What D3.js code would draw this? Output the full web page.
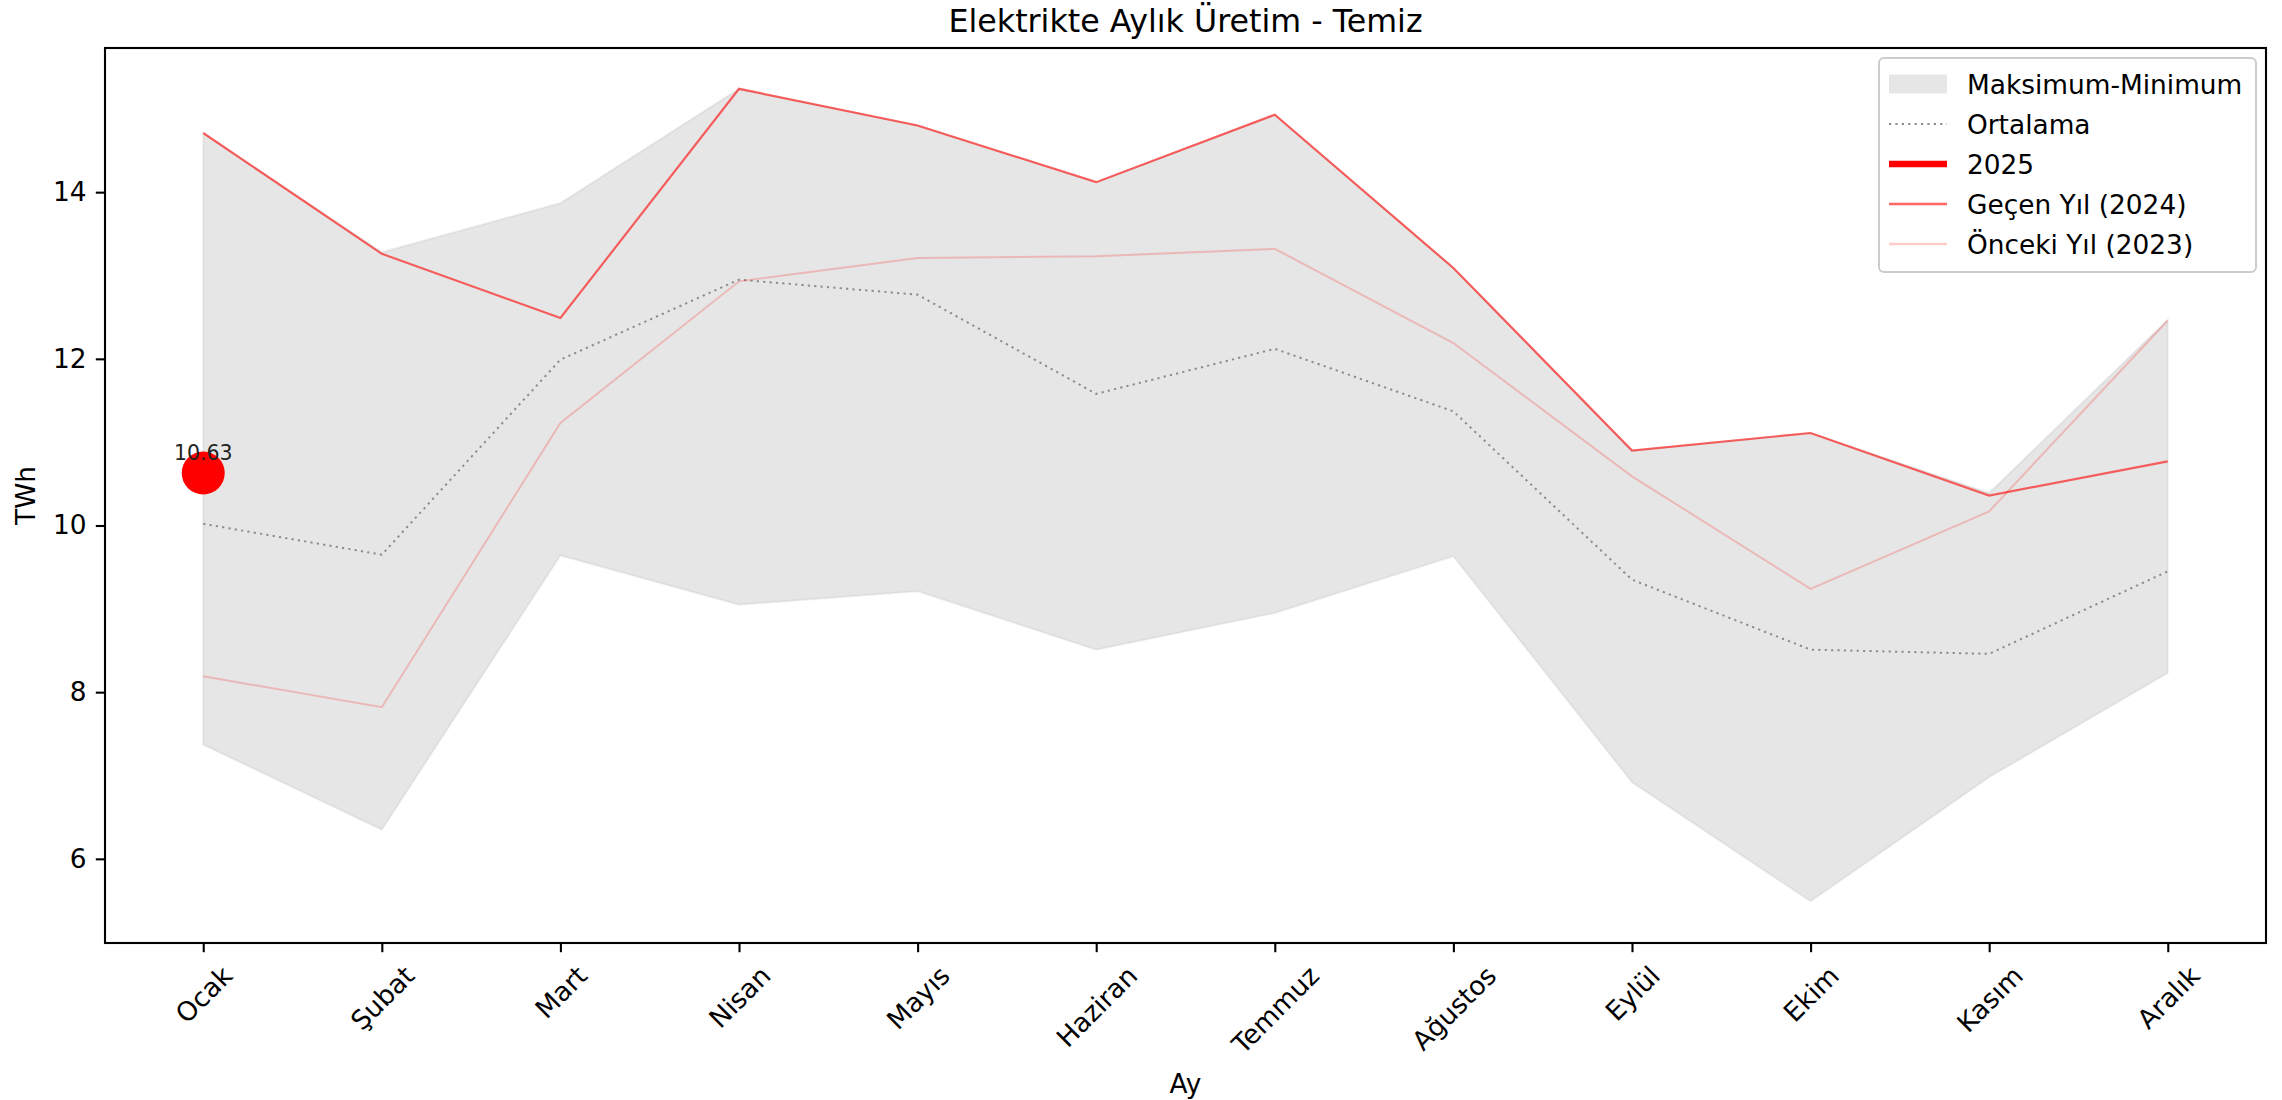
<!DOCTYPE html>
<html>
<head>
<meta charset="utf-8">
<script src="https://cdn.jsdelivr.net/npm/d3@7"></script>
<style>
  body { margin: 0; background: #fff; }
  text { font-family: "DejaVu Sans", sans-serif; fill: #000; }
</style>
</head>
<body>
<svg id="chart" width="2282" height="1100"></svg>
<script>
// months on the x axis
const months = ["Ocak", "Şubat", "Mart", "Nisan", "Mayıs", "Haziran",
                "Temmuz", "Ağustos", "Eylül", "Ekim", "Kasım", "Aralık"];

// band: max / min of past years (TWh)
const maxValues = [14.71, 13.28, 13.87, 15.24, 14.80, 14.12, 14.93, 13.09, 10.90, 11.11, 10.39, 12.47];
const minValues = [7.37, 6.35, 9.64, 9.05, 9.21, 8.51, 8.95, 9.63, 6.92, 5.49, 6.98, 8.23];
const avgValues = [10.02, 9.65, 11.99, 12.95, 12.77, 11.58, 12.12, 11.37, 9.35, 8.51, 8.46, 9.45];
const y2024 = [14.71, 13.26, 12.49, 15.24, 14.80, 14.12, 14.93, 13.09, 10.90, 11.11, 10.36, 10.77];
const y2023 = [8.19, 7.82, 11.23, 12.93, 13.21, 13.23, 13.32, 12.19, 10.59, 9.24, 10.17, 12.46];
const y2025 = [10.63];

const yTicks = [6, 8, 10, 12, 14];

const W = 2282, H = 1100;
const margin = {top: 48, right: 16, bottom: 157, left: 105};
const plotW = W - margin.left - margin.right;
const plotH = H - margin.top - margin.bottom;

const svg = d3.select("#chart");

// matplotlib style 5% margins
const x = d3.scaleLinear()
    .domain([-0.55, 11.55])
    .range([margin.left, margin.left + plotW]);
const y = d3.scaleLinear()
    .domain([4.99, 15.73])
    .range([margin.top + plotH, margin.top]);

const g = svg.append("g");

svg.append("clipPath").attr("id", "clip")
  .append("rect")
    .attr("x", margin.left).attr("y", margin.top)
    .attr("width", plotW).attr("height", plotH);

const plot = g.append("g").attr("clip-path", "url(#clip)");

// max-min band
const area = d3.area()
    .x((d, i) => x(i))
    .y0((d, i) => y(minValues[i]))
    .y1(d => y(d));
plot.append("path")
    .datum(maxValues)
    .attr("d", area)
    .attr("fill", "gray").attr("fill-opacity", 0.2)
    .attr("stroke", "gray").attr("stroke-opacity", 0.12)
    .attr("stroke-width", 2);

const line = d3.line().x((d, i) => x(i)).y(d => y(d));

// ortalama
plot.append("path")
    .datum(avgValues)
    .attr("d", line)
    .attr("fill", "none")
    .attr("stroke", "#8c8c8c")
    .attr("stroke-width", 2)
    .attr("stroke-dasharray", "2.2,4.2");

// 2025
plot.selectAll("circle.y2025")
  .data(y2025)
  .enter().append("circle")
    .attr("class", "y2025")
    .attr("cx", (d, i) => x(i))
    .attr("cy", d => y(d))
    .attr("r", 21.5)
    .attr("fill", "red");

// 2024
plot.append("path")
    .datum(y2024)
    .attr("d", line)
    .attr("fill", "none")
    .attr("stroke", "red").attr("stroke-opacity", 0.6)
    .attr("stroke-width", 2.2);

// 2023
plot.append("path")
    .datum(y2023)
    .attr("d", line)
    .attr("fill", "none")
    .attr("stroke", "red").attr("stroke-opacity", 0.2)
    .attr("stroke-width", 2);

// value label for the last 2025 point
g.selectAll("text.val")
  .data(y2025)
  .enter().append("text")
    .attr("class", "val")
    .attr("x", (d, i) => x(i))
    .attr("y", d => y(d) - 13)
    .attr("text-anchor", "middle")
    .style("font-size", "20.5px")
    .style("fill", "#222")
    .text(d => d.toFixed(2));

// frame
g.append("rect")
    .attr("x", margin.left).attr("y", margin.top)
    .attr("width", plotW).attr("height", plotH)
    .attr("fill", "none")
    .attr("stroke", "#000").attr("stroke-width", 2.1);

// y axis
const yAxis = d3.axisLeft(y)
    .tickValues(yTicks)
    .tickSize(9.2)
    .tickPadding(9.2)
    .tickFormat(d3.format("d"));
const yAxisG = g.append("g")
    .attr("transform", `translate(${margin.left},0)`)
    .call(yAxis);
yAxisG.select(".domain").remove();
yAxisG.selectAll(".tick line").attr("stroke-width", 2.1);
yAxisG.selectAll("text")
    .style("font-size", "26.4px")
    .style("font-family", "DejaVu Sans")
    .attr("fill", "#000");

// x axis
const xAxis = d3.axisBottom(x)
    .tickValues(d3.range(months.length))
    .tickSize(9.2)
    .tickFormat(i => months[i]);
const xAxisG = g.append("g")
    .attr("transform", `translate(0,${margin.top + plotH})`)
    .call(xAxis);
xAxisG.select(".domain").remove();
xAxisG.selectAll(".tick line").attr("stroke-width", 2.1);
xAxisG.selectAll("text")
    .style("font-size", "26.4px")
    .style("font-family", "DejaVu Sans")
    .attr("fill", "#000")
    .attr("dy", null)
    .attr("text-anchor", "middle")
    .attr("dominant-baseline", "central")
    .each(function() {
        const t = d3.select(this);
        const w = this.getComputedTextLength();
        const h = 26.4;
        const top = 18.4;
        const cy = top + (w + h) * Math.SQRT1_2 / 2;
        t.attr("y", null)
         .attr("transform", `translate(0,${cy}) rotate(-45)`);
    });

// title and axis labels
g.append("text")
    .attr("x", margin.left + plotW / 2)
    .attr("y", 32)
    .attr("text-anchor", "middle")
    .style("font-size", "31.7px")
    .text("Elektrikte Aylık Üretim - Temiz");

g.append("text")
    .attr("x", margin.left + plotW / 2)
    .attr("y", 1093)
    .attr("text-anchor", "middle")
    .style("font-size", "26.4px")
    .text("Ay");

g.append("text")
    .attr("transform", `translate(35,${margin.top + plotH / 2}) rotate(-90)`)
    .attr("text-anchor", "middle")
    .style("font-size", "26.4px")
    .text("TWh");

// legend
const legendItems = [
  {label: "Maksimum-Minimum", type: "band"},
  {label: "Ortalama", type: "dot"},
  {label: "2025", type: "line", color: "red", opacity: 1, width: 6.5},
  {label: "Geçen Yıl (2024)", type: "line", color: "red", opacity: 0.6, width: 2.6},
  {label: "Önceki Yıl (2023)", type: "line", color: "red", opacity: 0.2, width: 2.6}
];
const lx = 1879, ly = 58, lw = 377, lh = 214;
const legend = g.append("g");
legend.append("rect")
    .attr("x", lx).attr("y", ly)
    .attr("width", lw).attr("height", lh)
    .attr("rx", 5)
    .attr("fill", "#fff").attr("fill-opacity", 0.8)
    .attr("stroke", "#cccccc").attr("stroke-width", 2);

const rows = legend.selectAll("g.item")
  .data(legendItems)
  .enter().append("g")
    .attr("class", "item")
    .attr("transform", (d, i) => `translate(${lx + 10},${ly + 26 + i * 40})`);

rows.each(function(d) {
    const r = d3.select(this);
    if (d.type === "band") {
        r.append("rect")
            .attr("x", 0).attr("y", -9.5)
            .attr("width", 58).attr("height", 19)
            .attr("fill", "gray").attr("fill-opacity", 0.2);
    } else if (d.type === "dot") {
        r.append("line")
            .attr("x1", 0).attr("x2", 58)
            .attr("stroke", "#8c8c8c").attr("stroke-width", 2)
            .attr("stroke-dasharray", "2.2,4.2");
    } else {
        r.append("line")
            .attr("x1", 0).attr("x2", 58)
            .attr("stroke", d.color)
            .attr("stroke-opacity", d.opacity)
            .attr("stroke-width", d.width);
    }
    r.append("text")
        .attr("x", 78)
        .attr("dominant-baseline", "central")
        .style("font-size", "26.4px")
        .text(d.label);
});
</script>
</body>
</html>
